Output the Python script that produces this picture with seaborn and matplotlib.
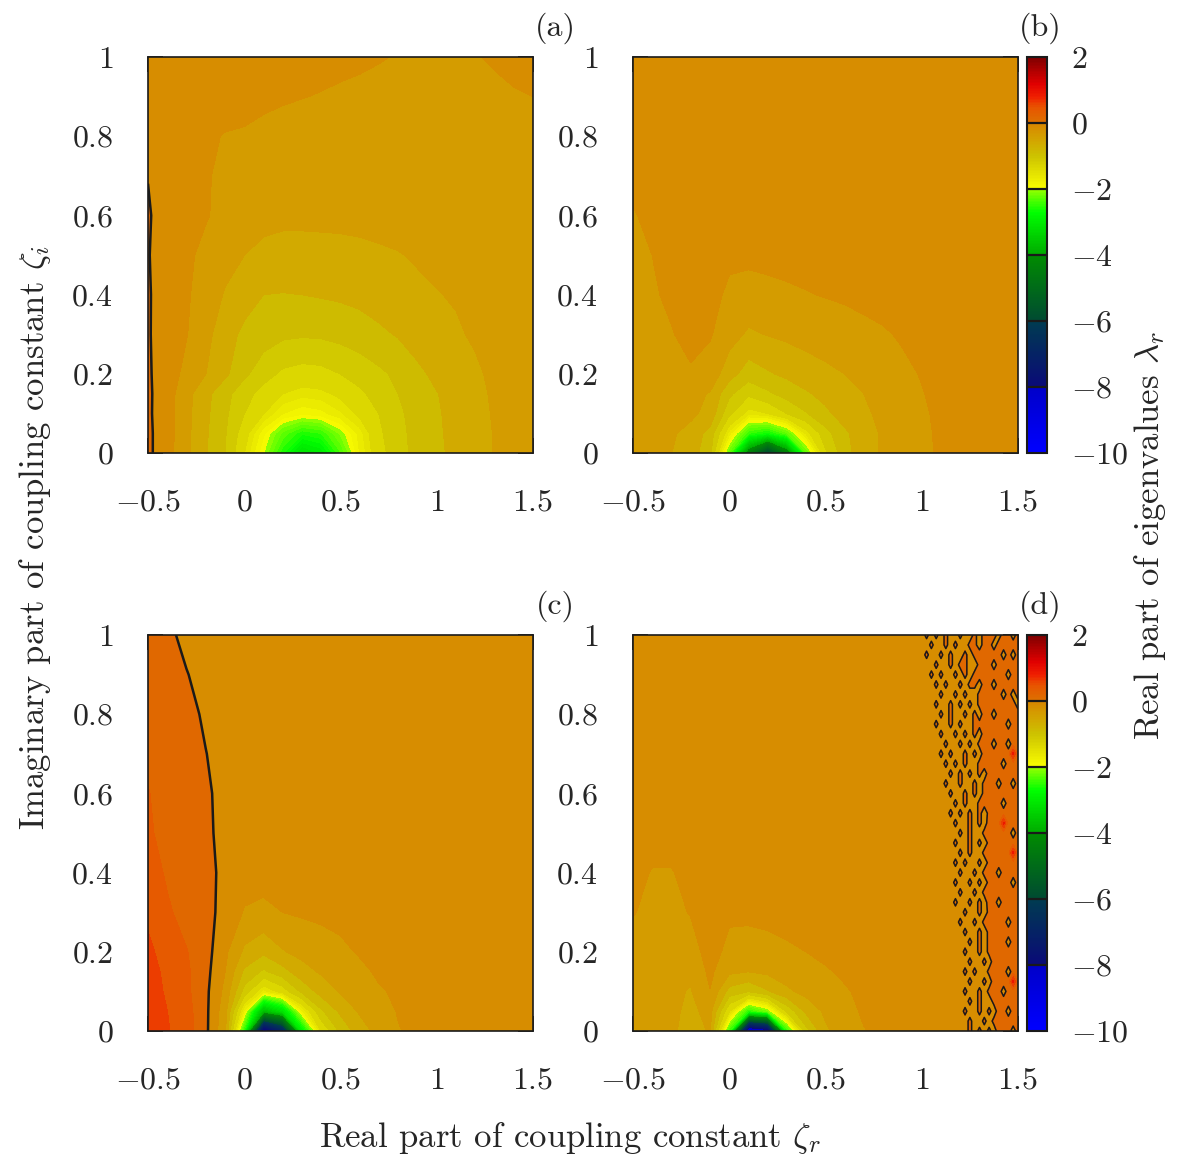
import numpy as np
import matplotlib
matplotlib.use("Agg")
import matplotlib.pyplot as plt
import seaborn as sns
from matplotlib.colors import LinearSegmentedColormap, Normalize
from matplotlib.cm import ScalarMappable

# grid of the coupling constant (zeta_r along x, zeta_i along y)
x_grid = [-0.5, -0.4, -0.3, -0.2, -0.1, 0.0, 0.1, 0.2, 0.3, 0.4, 0.5,
          0.6, 0.7, 0.8, 0.9, 1.0, 1.1, 1.2, 1.3, 1.4, 1.5]
y_grid = [0.0, 0.05, 0.1, 0.15, 0.2, 0.3, 0.4, 0.5, 0.6, 0.7, 0.8, 0.9, 1.0]

# real part of eigenvalues (rows = y_grid, cols = x_grid)
lam_a = [
    [0.05, -0.15, -0.45, -0.73, -1.0, -1.5, -2.0, -2.6, -3.2, -3.0, -2.4, -1.75, -1.35, -1.1, -0.92, -0.8, -0.69, -0.6, -0.49, -0.42, -0.36],
    [0.05, -0.15, -0.44, -0.72, -0.98, -1.4, -1.85, -2.3, -2.6, -2.5, -2.1, -1.7, -1.3, -1.08, -0.91, -0.79, -0.68, -0.59, -0.49, -0.42, -0.36],
    [0.04, -0.15, -0.43, -0.7, -0.95, -1.25, -1.5, -1.75, -1.85, -1.8, -1.65, -1.45, -1.25, -1.05, -0.9, -0.78, -0.67, -0.58, -0.48, -0.41, -0.35],
    [0.04, -0.14, -0.42, -0.68, -0.92, -1.15, -1.35, -1.5, -1.58, -1.55, -1.45, -1.3, -1.15, -1.0, -0.87, -0.76, -0.66, -0.56, -0.47, -0.4, -0.34],
    [0.03, -0.13, -0.32, -0.5, -0.7, -0.95, -1.15, -1.3, -1.35, -1.33, -1.25, -1.15, -1.05, -0.95, -0.8, -0.7, -0.62, -0.54, -0.45, -0.38, -0.33],
    [0.02, -0.12, -0.24, -0.42, -0.66, -0.8, -0.88, -0.95, -0.97, -0.96, -0.92, -0.87, -0.8, -0.73, -0.65, -0.58, -0.53, -0.47, -0.41, -0.36, -0.31],
    [0.02, -0.11, -0.22, -0.37, -0.52, -0.66, -0.75, -0.76, -0.75, -0.73, -0.71, -0.68, -0.63, -0.58, -0.54, -0.51, -0.48, -0.44, -0.39, -0.35, -0.3],
    [0.01, -0.1, -0.2, -0.32, -0.42, -0.5, -0.56, -0.58, -0.58, -0.57, -0.56, -0.55, -0.53, -0.51, -0.48, -0.45, -0.42, -0.39, -0.36, -0.33, -0.3],
    [0.012, -0.06, -0.14, -0.23, -0.33, -0.4, -0.43, -0.45, -0.45, -0.45, -0.45, -0.44, -0.43, -0.42, -0.4, -0.39, -0.37, -0.35, -0.33, -0.31, -0.29],
    [-0.003, -0.06, -0.13, -0.23, -0.3, -0.35, -0.37, -0.38, -0.38, -0.38, -0.38, -0.37, -0.37, -0.36, -0.35, -0.34, -0.33, -0.32, -0.31, -0.3, -0.28],
    [-0.05, -0.1, -0.15, -0.22, -0.26, -0.27, -0.3, -0.32, -0.34, -0.35, -0.35, -0.35, -0.35, -0.34, -0.33, -0.32, -0.31, -0.3, -0.29, -0.28, -0.27],
    [-0.08, -0.1, -0.12, -0.15, -0.17, -0.19, -0.21, -0.23, -0.245, -0.26, -0.28, -0.29, -0.3, -0.3, -0.3, -0.3, -0.29, -0.28, -0.27, -0.26, -0.25],
    [-0.1, -0.11, -0.12, -0.13, -0.14, -0.15, -0.16, -0.17, -0.18, -0.19, -0.2, -0.22, -0.24, -0.26, -0.27, -0.27, -0.26, -0.255, -0.24, -0.22, -0.2],
]

lam_b = [
    [-0.4, -0.43, -0.5, -0.62, -0.95, -2.3, -4.5, -6.2, -4.5, -2.3, -1.3, -0.85, -0.6, -0.47, -0.38, -0.3, -0.22, -0.17, -0.14, -0.12, -0.1],
    [-0.38, -0.41, -0.47, -0.58, -0.85, -1.7, -2.5, -2.7, -2.3, -1.6, -1.1, -0.8, -0.6, -0.47, -0.36, -0.29, -0.22, -0.17, -0.14, -0.12, -0.1],
    [-0.35, -0.38, -0.42, -0.45, -0.58, -1.2, -1.6, -1.5, -1.25, -1.02, -0.8, -0.65, -0.55, -0.43, -0.34, -0.28, -0.21, -0.17, -0.14, -0.12, -0.1],
    [-0.33, -0.36, -0.38, -0.42, -0.52, -0.95, -1.2, -1.05, -0.9, -0.78, -0.68, -0.58, -0.5, -0.4, -0.32, -0.26, -0.2, -0.16, -0.14, -0.12, -0.1],
    [-0.32, -0.32, -0.3, -0.27, -0.35, -0.65, -0.88, -0.78, -0.7, -0.62, -0.56, -0.5, -0.44, -0.36, -0.29, -0.24, -0.19, -0.16, -0.13, -0.11, -0.1],
    [-0.3, -0.28, -0.26, -0.2, -0.23, -0.4, -0.54, -0.49, -0.45, -0.41, -0.37, -0.34, -0.3, -0.27, -0.23, -0.2, -0.17, -0.15, -0.13, -0.11, -0.1],
    [-0.29, -0.27, -0.22, -0.17, -0.2, -0.28, -0.32, -0.3, -0.28, -0.26, -0.24, -0.22, -0.2, -0.18, -0.16, -0.15, -0.14, -0.13, -0.12, -0.11, -0.1],
    [-0.28, -0.25, -0.2, -0.16, -0.17, -0.22, -0.21, -0.2, -0.19, -0.18, -0.17, -0.16, -0.15, -0.14, -0.13, -0.13, -0.12, -0.12, -0.11, -0.11, -0.1],
    [-0.26, -0.22, -0.18, -0.16, -0.16, -0.17, -0.16, -0.16, -0.15, -0.15, -0.14, -0.14, -0.13, -0.13, -0.12, -0.12, -0.12, -0.11, -0.11, -0.1, -0.1],
    [-0.22, -0.2, -0.17, -0.15, -0.15, -0.15, -0.15, -0.14, -0.14, -0.14, -0.13, -0.13, -0.13, -0.12, -0.12, -0.12, -0.11, -0.11, -0.1, -0.1, -0.1],
    [-0.2, -0.18, -0.16, -0.15, -0.14, -0.14, -0.14, -0.13, -0.13, -0.13, -0.13, -0.12, -0.12, -0.12, -0.12, -0.11, -0.11, -0.11, -0.1, -0.1, -0.1],
    [-0.18, -0.17, -0.15, -0.14, -0.14, -0.13, -0.13, -0.13, -0.13, -0.12, -0.12, -0.12, -0.12, -0.11, -0.11, -0.11, -0.11, -0.1, -0.1, -0.1, -0.1],
    [-0.17, -0.16, -0.15, -0.14, -0.13, -0.13, -0.13, -0.12, -0.12, -0.12, -0.12, -0.12, -0.11, -0.11, -0.11, -0.11, -0.1, -0.1, -0.1, -0.1, -0.1],
]

lam_c = [
    [0.65, 0.52, 0.36, 0.06, -0.45, -2.6, -8.6, -7.2, -3.0, -1.5, -0.95, -0.62, -0.42, -0.26, -0.21, -0.18, -0.16, -0.14, -0.12, -0.11, -0.1],
    [0.62, 0.5, 0.34, 0.06, -0.4, -1.8, -3.8, -3.2, -1.8, -1.05, -0.7, -0.47, -0.33, -0.24, -0.2, -0.17, -0.15, -0.13, -0.12, -0.11, -0.1],
    [0.6, 0.47, 0.3, 0.06, -0.32, -1.1, -1.7, -1.4, -0.95, -0.65, -0.48, -0.38, -0.27, -0.22, -0.19, -0.17, -0.15, -0.13, -0.12, -0.11, -0.1],
    [0.58, 0.45, 0.29, 0.08, -0.25, -0.8, -1.05, -0.85, -0.6, -0.47, -0.38, -0.3, -0.22, -0.19, -0.17, -0.16, -0.14, -0.13, -0.12, -0.11, -0.1],
    [0.55, 0.4, 0.26, 0.1, -0.2, -0.55, -0.7, -0.52, -0.43, -0.36, -0.3, -0.23, -0.2, -0.18, -0.16, -0.15, -0.14, -0.13, -0.12, -0.11, -0.1],
    [0.45, 0.28, 0.17, 0.07, -0.07, -0.27, -0.3, -0.25, -0.22, -0.2, -0.18, -0.16, -0.15, -0.14, -0.13, -0.13, -0.12, -0.12, -0.11, -0.11, -0.1],
    [0.35, 0.22, 0.14, 0.06, -0.05, -0.14, -0.17, -0.16, -0.15, -0.14, -0.14, -0.13, -0.13, -0.12, -0.12, -0.12, -0.11, -0.11, -0.11, -0.1, -0.1],
    [0.28, 0.18, 0.11, 0.04, -0.06, -0.12, -0.13, -0.13, -0.13, -0.12, -0.12, -0.12, -0.12, -0.11, -0.11, -0.11, -0.11, -0.1, -0.1, -0.1, -0.1],
    [0.26, 0.15, 0.09, 0.025, -0.05, -0.1, -0.11, -0.11, -0.11, -0.11, -0.11, -0.11, -0.11, -0.1, -0.1, -0.1, -0.1, -0.1, -0.1, -0.1, -0.1],
    [0.2, 0.12, 0.06, 0.003, -0.05, -0.08, -0.1, -0.1, -0.1, -0.1, -0.1, -0.1, -0.1, -0.1, -0.1, -0.1, -0.1, -0.1, -0.1, -0.1, -0.1],
    [0.16, 0.09, 0.04, -0.02, -0.06, -0.08, -0.1, -0.1, -0.1, -0.1, -0.1, -0.1, -0.1, -0.1, -0.1, -0.1, -0.1, -0.1, -0.1, -0.1, -0.1],
    [0.12, 0.06, 0.005, -0.04, -0.07, -0.09, -0.1, -0.1, -0.1, -0.1, -0.1, -0.1, -0.1, -0.1, -0.1, -0.1, -0.1, -0.1, -0.1, -0.1, -0.1],
    [0.08, 0.025, -0.03, -0.06, -0.08, -0.09, -0.1, -0.1, -0.1, -0.1, -0.1, -0.1, -0.1, -0.1, -0.1, -0.1, -0.1, -0.1, -0.1, -0.1, -0.1],
]

lam_d = [
    [-0.52, -0.45, -0.46, -0.6, -0.48, -2.5, -9.2, -8.6, -2.6, -1.1, -0.55, -0.36, -0.26, -0.2, -0.17, -0.15, -0.14, -0.13, -0.12, -0.12, -0.12],
    [-0.42, -0.42, -0.45, -0.56, -0.42, -1.5, -2.6, -2.2, -1.2, -0.7, -0.45, -0.33, -0.22, -0.19, -0.17, -0.15, -0.14, -0.13, -0.12, -0.12, -0.12],
    [-0.38, -0.4, -0.45, -0.52, -0.26, -0.85, -1.0, -0.78, -0.55, -0.42, -0.34, -0.27, -0.21, -0.18, -0.16, -0.15, -0.14, -0.13, -0.12, -0.12, -0.12],
    [-0.36, -0.38, -0.42, -0.45, -0.2, -0.45, -0.5, -0.45, -0.38, -0.32, -0.27, -0.22, -0.19, -0.17, -0.16, -0.15, -0.14, -0.13, -0.12, -0.12, -0.12],
    [-0.34, -0.36, -0.37, -0.33, -0.18, -0.3, -0.35, -0.32, -0.28, -0.25, -0.21, -0.18, -0.16, -0.15, -0.14, -0.14, -0.13, -0.13, -0.12, -0.12, -0.12],
    [-0.24, -0.3, -0.3, -0.24, -0.16, -0.22, -0.2, -0.19, -0.18, -0.17, -0.16, -0.15, -0.14, -0.14, -0.13, -0.13, -0.13, -0.12, -0.12, -0.12, -0.12],
    [-0.2, -0.26, -0.26, -0.2, -0.16, -0.16, -0.16, -0.15, -0.15, -0.15, -0.14, -0.14, -0.14, -0.13, -0.13, -0.13, -0.12, -0.12, -0.12, -0.12, -0.12],
    [-0.17, -0.18, -0.18, -0.17, -0.15, -0.15, -0.15, -0.14, -0.14, -0.14, -0.14, -0.13, -0.13, -0.13, -0.13, -0.12, -0.12, -0.12, -0.12, -0.12, -0.12],
    [-0.15, -0.16, -0.16, -0.15, -0.15, -0.14, -0.14, -0.14, -0.14, -0.13, -0.13, -0.13, -0.13, -0.13, -0.12, -0.12, -0.12, -0.12, -0.12, -0.12, -0.12],
    [-0.15, -0.15, -0.15, -0.14, -0.14, -0.14, -0.14, -0.13, -0.13, -0.13, -0.13, -0.13, -0.12, -0.12, -0.12, -0.12, -0.12, -0.12, -0.12, -0.12, -0.12],
    [-0.14, -0.14, -0.14, -0.14, -0.14, -0.13, -0.13, -0.13, -0.13, -0.13, -0.12, -0.12, -0.12, -0.12, -0.12, -0.12, -0.12, -0.12, -0.12, -0.12, -0.12],
    [-0.14, -0.14, -0.13, -0.13, -0.13, -0.13, -0.13, -0.13, -0.12, -0.12, -0.12, -0.12, -0.12, -0.12, -0.12, -0.12, -0.12, -0.12, -0.12, -0.12, -0.12],
    [-0.13, -0.13, -0.13, -0.13, -0.13, -0.13, -0.12, -0.12, -0.12, -0.12, -0.12, -0.12, -0.12, -0.12, -0.12, -0.12, -0.12, -0.12, -0.12, -0.12, -0.12],
]

# noisy strip of panel (d): zeta_r 1.0..1.5 (step 0.025), rows from zeta_i = 1 down to 0 (step 0.025)
# '.' slightly negative, '+' barely positive, 'o' positive, '#' clearly positive
strip_rows = [
    ".+.+.+." ".+..+.o" "oo.oo.o",
    "..+..+." "+..++.o" "o.ooooo",
    ".+..+.+" "..+.+oo" "ooo.o.o",
    "...+..+" ".++..+o" "o.ooooo",
    "..+.+.." "+.+.+oo" "oooo.oo",
    "...+.+." ".+.++.o" "o.ooooo",
    "....+.." "+.+..+o" "ooo.o.o",
    "...+..+" ".+.+.+o" "oooooo.",
    "....+.+" "..+.+.o" "o.ooooo",
    "...+..+" ".+..++o" "oooo.oo",
    "....+.." "+.+.+.o" "ooooooo",
    ".....+." ".+.+.+o" "o.oo.oo",
    "....+.+" "..+.+.o" "ooooo#o",
    ".....+." "+.+..+o" "ooo.ooo",
    "......+" ".+.+.+." "ooooooo",
    ".....+." ".+..+.+" "oo.oo.o",
    "......+" "..+.+.+" "ooooooo",
    "......." "+.+..++" "ooo.ooo",
    "......+" ".+.+.+." "+oooooo",
    "......." "+..+.+." "ooo#ooo",
    "......." ".+.+..+" "ooooo.o",
    "......." "+..+.+." "+oooooo",
    "......." ".+.+..+" "ooooo#o",
    "......." "+.+..+." "+oooooo",
    "......." ".+..+.+" "oo.oooo",
    "......." "+..+.+." "+oooo.o",
    "......." ".+..+.+" "ooooooo",
    "......." "+..+.+." "oo.oooo",
    "......." "..+..+." "+oooooo",
    "......." ".+..+.+" "oooo.oo",
    "......." "..+..+." "+oooooo",
    "......." "...+.+." "+ooo.oo",
    "......." "..+..+." "+oooooo",
    "......." "...+..+" ".oooooo",
    "......." "..+.+.." "+ooo.oo",
    "......." "...+..+" ".oooo#o",
    "......." "..+..+." "+oo.ooo",
    "......." "...+.+." ".+ooooo",
    "......." "..+..+." "+.oo.oo",
    "......." "...+..+" ".+ooooo",
    "......." "...+.+." "+.ooo.o",
]
strip_code = {'.': -0.12, '+': 0.07, 'o': 0.12, '#': 0.8}

panel_tags = ['(a)', '(b)', '(c)', '(d)']
x_ticks = [-0.5, 0, 0.5, 1, 1.5]
x_tick_labels = [r'$-0.5$', r'$0$', r'$0.5$', r'$1$', r'$1.5$']
y_ticks = [0, 0.2, 0.4, 0.6, 0.8, 1]
y_tick_labels = [r'$0$', r'$0.2$', r'$0.4$', r'$0.6$', r'$0.8$', r'$1$']
cb_ticks = [2, 0, -2, -4, -6, -8, -10]
cb_tick_labels = [r'$2$', r'$0$', r'$-2$', r'$-4$', r'$-6$', r'$-8$', r'$-10$']

sns.set_theme(style="white")
plt.rcParams['font.family'] = ['cmr10', 'DejaVu Serif']
plt.rcParams['mathtext.fontset'] = 'cm'
plt.rcParams['axes.formatter.use_mathtext'] = True

# gnuplot-like palette from -10 (blue) to 2 (dark red)
nodes = [(-10, '#0000ff'), (-8, '#0000c8'), (-8, '#0a0a78'), (-6, '#003c50'),
         (-6, '#004a32'), (-4, '#008c00'), (-4, '#00aa00'), (-2.7, '#00ff00'),
         (-2, '#96ff00'), (-2, '#faff00'), (-1, '#cdc300'), (0, '#d88600'),
         (0, '#dc7200'), (0.5, '#e85400'), (0.8, '#f02000'), (1.2, '#e00000'),
         (2, '#800000')]
cmap = LinearSegmentedColormap.from_list('lam', [((v + 10) / 12, c) for v, c in nodes])
norm = Normalize(vmin=-10, vmax=2)
levels = np.concatenate([np.arange(-10, -1.5, 0.125), np.arange(-1.5, 2.001, 0.25)])

W, H = 1196, 1159
fig = plt.figure(figsize=(W / 100, H / 100), dpi=100)

panel_px = [(148, 57), (633, 57), (148, 635), (633, 635)]
pw, ph = 385, 396
fields = [lam_a, lam_b, lam_c, lam_d]
FS = 23
LFS = 25

for i, (px, py) in enumerate(panel_px):
    ax = fig.add_axes([px / W, 1 - (py + ph) / H, pw / W, ph / H])
    lam = np.array(fields[i])
    cs = ax.contourf(x_grid, y_grid, lam, levels=levels, cmap=cmap, norm=norm)
    cs.set_edgecolor('face')
    cs.set_linewidth(0.3)
    if lam.max() > 0:
        ax.contour(x_grid, y_grid, lam, levels=[0], colors='k', linewidths=1.8)
    if i == 3:
        sx = np.linspace(1.0, 1.5, len(strip_rows[0]))
        sy = np.linspace(0.0, 1.0, len(strip_rows))
        sz = np.array([[strip_code[ch] for ch in row] for row in strip_rows[::-1]])
        cs2 = ax.contourf(sx, sy, sz, levels=levels, cmap=cmap, norm=norm)
        cs2.set_edgecolor('face')
        cs2.set_linewidth(0.3)
        ax.contour(sx, sy, sz, levels=[0], colors='k', linewidths=1.1)
    ax.set_xlim(-0.5, 1.5)
    ax.set_ylim(0, 1)
    ax.set_xticks(x_ticks)
    ax.set_xticklabels(x_tick_labels)
    ax.set_yticks(y_ticks)
    ax.set_yticklabels(y_tick_labels)
    ax.tick_params(axis='both', direction='in', length=11, width=1.2, color='k',
                   top=True, right=True, bottom=True, left=True, labelsize=FS)
    ax.tick_params(axis='x', pad=26)
    ax.tick_params(axis='y', pad=25)
    for s in ax.spines.values():
        s.set_color('k')
        s.set_linewidth(1.2)
    ax.text(1.057, 1.073, panel_tags[i], transform=ax.transAxes,
            ha='center', va='center', fontsize=FS)

# colour boxes
for py in [57, 635]:
    cax = fig.add_axes([1027 / W, 1 - (py + ph) / H, 20 / W, ph / H])
    cb = fig.colorbar(ScalarMappable(norm=norm, cmap=cmap), cax=cax)
    cb.set_ticks(cb_ticks)
    cb.set_ticklabels(cb_tick_labels)
    cb.outline.set_edgecolor('k')
    cb.outline.set_linewidth(1.5)
    for v in [0, -2, -4, -6, -8]:
        cax.axhline(v, color='k', lw=1.6)
    cax.tick_params(length=0, labelsize=FS, pad=17, right=True, left=False)

fig.text(570 / W, 1 - 1138 / H, r'Real part of coupling constant $\zeta_r$',
         ha='center', va='center', fontsize=LFS)
fig.text(35 / W, 1 - 538 / H, r'Imaginary part of coupling constant $\zeta_i$',
         ha='center', va='center', rotation=90, fontsize=LFS)
fig.text(1150 / W, 1 - 535 / H, r'Real part of eigenvalues $\lambda_r$',
         ha='center', va='center', rotation=90, fontsize=LFS)

fig.savefig('out.png', dpi=100)
